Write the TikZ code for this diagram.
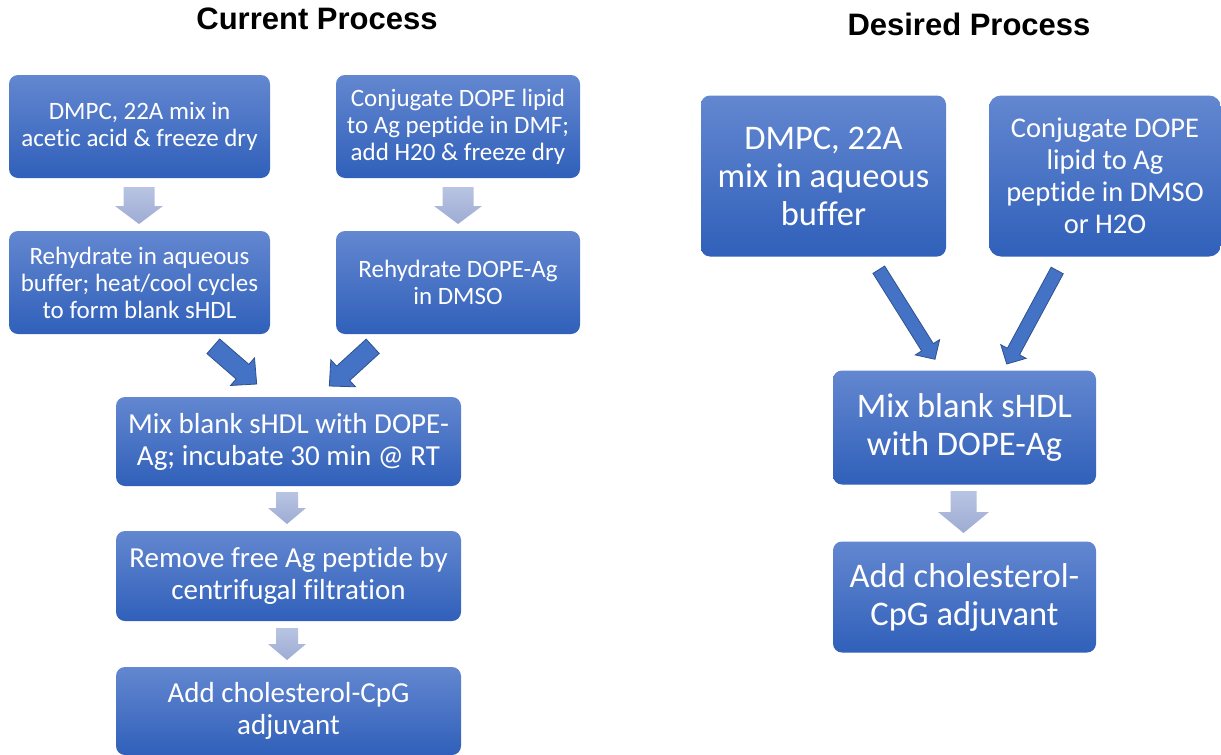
\documentclass[tikz,border=0pt]{standalone}
\usepackage{fontspec}
\setmainfont[Ligatures={NoCommon,NoRare,NoContextual}]{Carlito}
\newfontfamily\titlefont{Liberation Sans}
\usetikzlibrary{calc}
\definecolor{boxtop}{RGB}{99,135,208}
\definecolor{boxbot}{RGB}{48,96,186}
\definecolor{ltop}{RGB}{184,196,226}
\definecolor{lbot}{RGB}{158,172,212}
\definecolor{dfill}{RGB}{68,114,196}
\definecolor{dline}{RGB}{47,82,143}
\tikzset{
  box/.style={rounded corners=9pt, top color=boxtop, bottom color=boxbot, draw=none,
    text=white, align=center, inner sep=2pt},
  ttl/.style={font=\titlefont\bfseries\fontsize{31}{36}\selectfont, text=black},
  lightarrow/.style={top color=ltop, bottom color=lbot, draw=none},
  darkarrow/.style={fill=dfill, draw=dline, line width=0.8pt},
  fs/.style={font=\fontsize{25}{27}\selectfont},
  fm/.style={font=\fontsize{29}{32}\selectfont},
  fr/.style={font=\fontsize{28.5}{32}\selectfont},
  fl/.style={font=\fontsize{34.5}{38}\selectfont},
}
% block arrow: style, from, to, shaft half width, head half width, head length
\newcommand\blockarrow[6]{%
  \coordinate (ba-c) at ($(#3)!#6!(#2)$);
  \path[#1] ($(#2)!#4!90:(#3)$) -- ($(ba-c)!#4!-90:(#2)$) -- ($(ba-c)!#5!-90:(#2)$)
    -- (#3) -- ($(ba-c)!#5!90:(#2)$) -- ($(ba-c)!#4!90:(#2)$) -- ($(#2)!#4!-90:(#3)$) -- cycle;
}
\begin{document}
\begin{tikzpicture}[x=1pt,y=-1pt]
\useasboundingbox (0,0) rectangle (1221,755);
% titles
\node[ttl] (t1) at (317,19) {Current Process};
\node[ttl] (t2) at (969,24) {Desired Process};
% left column
\node[box,fs,minimum width=261pt,minimum height=103pt] (a1) at (139.5,126.5) {DMPC, 22A mix in\\acetic acid \& freeze dry};
\node[box,fs,minimum width=244pt,minimum height=103pt] (a2) at (458,126.5) {Conjugate DOPE lipid\\to Ag peptide in DMF;\\add H20 \& freeze dry};
\node[box,fs,minimum width=261pt,minimum height=103pt] (b1) at (139.5,282.5) {Rehydrate in aqueous\\buffer; heat/cool cycles\\to form blank sHDL};
\node[box,fs,minimum width=244pt,minimum height=103pt] (b2) at (458,282.5) {Rehydrate DOPE-Ag\\in DMSO};
\node[box,fm,minimum width=345pt,minimum height=89pt] (c) at (288.5,441.5) {Mix blank sHDL with DOPE-\\Ag; incubate 30 min @ RT};
\node[box,fm,minimum width=345pt,minimum height=90pt] (d) at (288.5,576) {Remove free Ag peptide by\\centrifugal filtration};
\node[box,fm,minimum width=345pt,minimum height=88pt] (e) at (288.5,711) {Add cholesterol-CpG\\adjuvant};
% right column
\node[box,fl,minimum width=245pt,minimum height=161pt] (r1) at (823.5,176) {DMPC, 22A\\mix in aqueous\\buffer};
\node[box,fr,minimum width=232pt,minimum height=161pt,rounded corners=12pt] (r2) at (1105,176) {Conjugate DOPE\\lipid to Ag\\peptide in DMSO\\or H2O};
\node[box,fl,minimum width=263pt,minimum height=114pt] (r3) at (964.5,427.5) {Mix blank sHDL\\with DOPE-Ag};
\node[box,fl,minimum width=263pt,minimum height=111pt] (r4) at (964.5,597) {Add cholesterol-\\CpG adjuvant};
% arrow end points
\coordinate (p1s) at (139,187); \coordinate (p1e) at (139,224);
\coordinate (p2s) at (458,187); \coordinate (p2e) at (458,224);
\coordinate (p3s) at (287,492); \coordinate (p3e) at (287,524);
\coordinate (p4s) at (287,628); \coordinate (p4e) at (287,660);
\coordinate (p5s) at (963.5,491); \coordinate (p5e) at (963.5,533);
\coordinate (d1s) at (213.3,346.3); \coordinate (d1e) at (256.7,384);
\coordinate (d2s) at (372.7,346.3); \coordinate (d2e) at (329.3,386);
\coordinate (d3s) at (878.8,269.7); \coordinate (d3e) at (935,359.3);
\coordinate (d4s) at (1057.2,270.5); \coordinate (d4e) at (1006.7,364);
% light arrows
\blockarrow{lightarrow}{p1s}{p1e}{15.5pt}{24pt}{18pt}
\blockarrow{lightarrow}{p2s}{p2e}{15.5pt}{24pt}{18pt}
\blockarrow{lightarrow}{p3s}{p3e}{11pt}{19pt}{16pt}
\blockarrow{lightarrow}{p4s}{p4e}{11pt}{19pt}{16pt}
\blockarrow{lightarrow}{p5s}{p5e}{13pt}{25.5pt}{21pt}
% dark diagonal arrows
\blockarrow{darkarrow}{d1s}{d1e}{9.7pt}{18.3pt}{18.8pt}
\blockarrow{darkarrow}{d2s}{d2e}{9.7pt}{18.3pt}{18.8pt}
\blockarrow{darkarrow}{d3s}{d3e}{6.9pt}{14.4pt}{14.2pt}
\blockarrow{darkarrow}{d4s}{d4e}{6.9pt}{14.4pt}{14.2pt}
\end{tikzpicture}
\end{document}
